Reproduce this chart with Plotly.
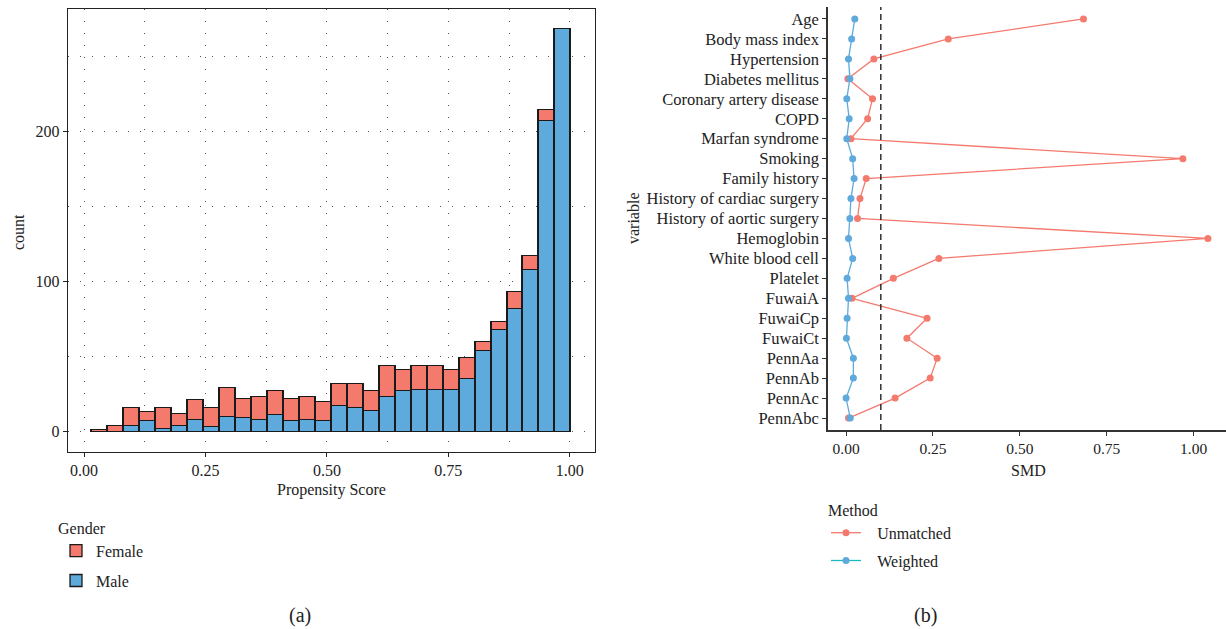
import plotly.graph_objects as go

# ---------------- Data: (a) propensity-score histogram ----------------
bin_lo = 0.0156      # left edge of first bin
bin_w = 0.0329       # bin width (30 bins)
male_counts = [0, 0, 4, 7, 2, 4, 8, 3, 10, 9, 8, 11, 7, 8, 7,
               17, 16, 14, 23, 27, 28, 28, 28, 35, 54, 68, 82, 108, 207, 268]
female_counts = [1, 4, 12, 6, 14, 8, 13, 13, 19, 13, 15, 16, 15, 15, 13,
                 15, 16, 13, 21, 14, 16, 16, 13, 14, 6, 5, 11, 9, 7, 0]
bin_centers = [bin_lo + bin_w * (i + 0.5) for i in range(len(male_counts))]

# ---------------- Data: (b) SMD plot ----------------
variables = ["Age", "Body mass index", "Hypertension", "Diabetes mellitus",
             "Coronary artery disease", "COPD", "Marfan syndrome", "Smoking",
             "Family history", "History of cardiac surgery",
             "History of aortic surgery", "Hemoglobin", "White blood cell",
             "Platelet", "FuwaiA", "FuwaiCp", "FuwaiCt", "PennAa", "PennAb",
             "PennAc", "PennAbc"]
smd_unmatched = [0.683, 0.294, 0.080, 0.005, 0.076, 0.062, 0.014, 0.969,
                 0.058, 0.040, 0.033, 1.041, 0.267, 0.136, 0.017, 0.233,
                 0.175, 0.262, 0.242, 0.141, 0.007]
smd_weighted = [0.025, 0.016, 0.007, 0.011, 0.002, 0.009, 0.002, 0.019,
                0.023, 0.014, 0.011, 0.007, 0.019, 0.003, 0.007, 0.003,
                0.001, 0.021, 0.021, 0.000, 0.012]
smd_threshold = 0.1

RED = "#F47A6E"
BLUE = "#5EAADD"
TEAL = "#1CB9C0"
FONT = "Liberation Serif"
W, H = 1226, 629
FS = 16

fig = go.Figure()

# Histogram (stacked)
fig.add_trace(go.Bar(x=bin_centers, y=male_counts, width=bin_w, name="Male",
                     marker=dict(color=BLUE, line=dict(color="#1a1a1a", width=1.3)),
                     xaxis="x", yaxis="y", legend="legend", legendrank=2,
                     legendgroup="m"))
fig.add_trace(go.Bar(x=bin_centers, y=female_counts, width=bin_w, name="Female",
                     marker=dict(color=RED, line=dict(color="#1a1a1a", width=1.3)),
                     xaxis="x", yaxis="y", legend="legend", legendrank=1,
                     legendgroup="f"))

# SMD lines
fig.add_trace(go.Scatter(x=smd_unmatched, y=variables, mode="lines+markers",
                         line=dict(color=RED, width=1.3),
                         marker=dict(color=RED, size=7),
                         xaxis="x2", yaxis="y2", showlegend=False))
fig.add_trace(go.Scatter(x=smd_weighted, y=variables, mode="lines+markers",
                         line=dict(color=BLUE, width=1.3),
                         marker=dict(color=BLUE, size=7),
                         xaxis="x2", yaxis="y2", showlegend=False))
# legend entries for Method
fig.add_trace(go.Scatter(x=[None], y=[None], mode="lines+markers",
                         name="\u2002\u2009Unmatched",
                         line=dict(color=RED, width=1.3), marker=dict(color=RED, size=7),
                         xaxis="x2", yaxis="y2", legend="legend2", legendgroup="u"))
fig.add_trace(go.Scatter(x=[None], y=[None], mode="lines+markers",
                         name="\u2002\u2009Weighted",
                         line=dict(color=TEAL, width=1.3), marker=dict(color=BLUE, size=7),
                         xaxis="x2", yaxis="y2", legend="legend2", legendgroup="w"))

# threshold line
fig.add_shape(type="line", xref="x2", yref="y2 domain", x0=smd_threshold,
              x1=smd_threshold, y0=0, y1=1,
              line=dict(color="#111", width=1.3, dash="6px,4px"))

grid = dict(showgrid=True, gridcolor="#555", gridwidth=1, griddash="1px,11px")

fig.update_layout(
    width=W, height=H, margin=dict(l=0, r=0, t=0, b=0, autoexpand=False),
    paper_bgcolor="white", plot_bgcolor="white",
    font=dict(family=FONT, size=FS, color="#222"),
    barmode="stack", bargap=0, showlegend=True,
    xaxis=dict(domain=[67.6 / W, 595 / W], anchor="y", automargin=False,
               range=[-0.034, 1.052], tickvals=[0, 0.25, 0.5, 0.75, 1.0],
               ticktext=["0.00", "0.25", "0.50", "0.75", "1.00"],
               ticks="outside", ticklen=4, tickcolor="#222",
               showline=True, linecolor="#222", linewidth=1, mirror=True,
               zeroline=False, **grid,
               minor=dict(dtick=0.125, tick0=0, showgrid=True, gridcolor="#555",
                          gridwidth=1, griddash="1px,11px"),
               tickfont=dict(size=FS)),
    yaxis=dict(domain=[1 - 452 / H, 1 - 9 / H], anchor="x", automargin=False,
               range=[-13.4, 281.4], tickvals=[0, 100, 200],
               ticks="outside", ticklen=4, tickcolor="#222",
               showline=True, linecolor="#222", linewidth=1, mirror=True,
               zeroline=False, **grid,
               minor=dict(dtick=50, tick0=0, showgrid=True, gridcolor="#555",
                          gridwidth=1, griddash="1px,11px"),
               tickfont=dict(size=FS)),
    xaxis2=dict(domain=[828 / W, 1.0], anchor="y2", automargin=False,
                range=[-0.052, 1.093], tickvals=[0, 0.25, 0.5, 0.75, 1.0],
                ticktext=["0.00", "0.25", "0.50", "0.75", "1.00"],
                ticks="outside", ticklen=4, tickcolor="#333",
                showline=True, linecolor="#333", linewidth=1.5,
                showgrid=False, zeroline=False, tickfont=dict(size=15.5)),
    yaxis2=dict(domain=[1 - 430 / H, 1 - 7 / H], anchor="x2", automargin=False,
                type="category", categoryorder="array", categoryarray=variables,
                tickmode="array", tickvals=variables,
                range=[len(variables) - 0.4, -0.6],
                ticks="outside", ticklen=4, tickcolor="#333",
                showline=True, linecolor="#333", linewidth=1.5,
                showgrid=False, zeroline=False, tickfont=dict(size=16.5)),
    legend=dict(x=56 / W, y=1 - 513 / H, xanchor="left", yanchor="top",
                title=dict(text="Gender", font=dict(size=FS)),
                font=dict(size=FS), tracegroupgap=6, bgcolor="rgba(0,0,0,0)"),
    legend2=dict(x=826 / W, y=1 - 495 / H, xanchor="left", yanchor="top",
                 title=dict(text="Method", font=dict(size=FS)),
                 font=dict(size=FS), tracegroupgap=4, bgcolor="rgba(0,0,0,0)"),
)

ann_common = dict(showarrow=False, xref="paper", yref="paper",
                  xanchor="center", yanchor="middle")
annotations = [
    dict(text="count", x=18 / W, y=1 - 232 / H, textangle=-90,
         font=dict(size=FS), **ann_common),
    dict(text="Propensity Score", x=331 / W, y=1 - 490 / H,
         font=dict(size=FS), **ann_common),
    dict(text="variable", x=633 / W, y=1 - 218 / H, textangle=-90,
         font=dict(size=FS), **ann_common),
    dict(text="SMD", x=1028 / W, y=1 - 470 / H,
         font=dict(size=FS), **ann_common),
    dict(text="(a)", x=300 / W, y=1 - 615 / H, font=dict(size=20), **ann_common),
    dict(text="(b)", x=925 / W, y=1 - 615 / H, font=dict(size=20), **ann_common),
]
fig.update_layout(annotations=annotations)

fig.write_html("out.html", config={"displayModeBar": False},
               post_script="document.body.style.margin='0';document.body.style.overflow='hidden';")
